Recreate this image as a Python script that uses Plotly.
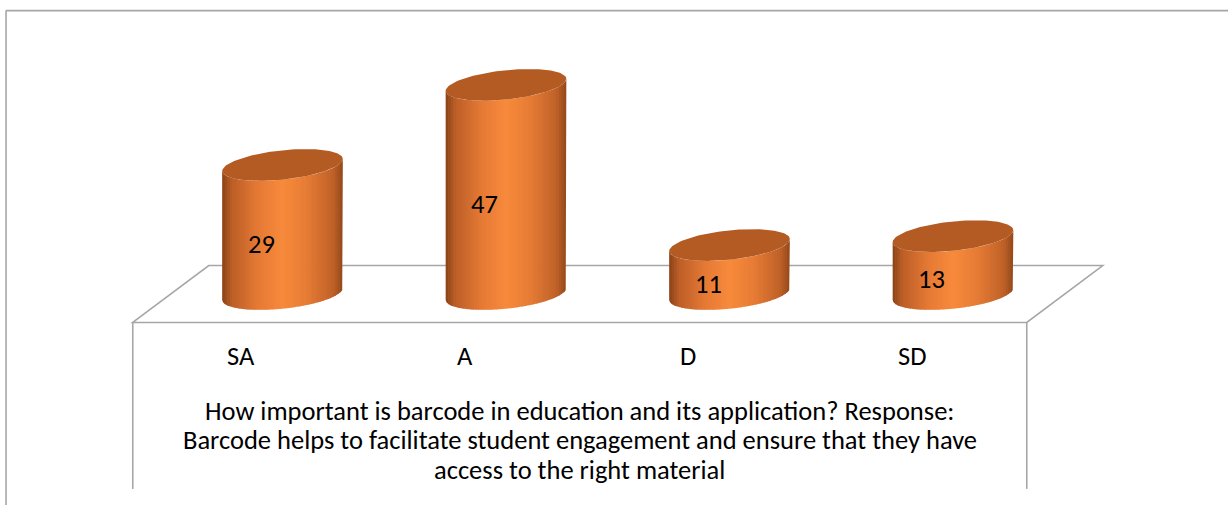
import numpy as np
import plotly.graph_objects as go

# Survey responses
categories = ["SA", "A", "D", "SD"]
responses = [29, 47, 11, 13]
question_lines = [
    "How important is barcode in education and its application? Response:",
    "Barcode helps to facilitate student engagement and ensure that they have",
    "access to the right material",
]

# cylinder geometry (x in category units, y in response units)
HALF_W = 0.27      # cylinder half width
RY = 3.3           # vertical semi-axis of the elliptical caps
TILT = 1.35        # caps lean: left side lower than right
DEPTH_X = 0.17     # floor depth offset (x)
DEPTH_Y = 6.4      # floor depth offset (y)
N_STRIPS = 48

FONT = "Calibri, Carlito, Lato, sans-serif"
FONT_SIZE = 26.5
LINE = "#a6a6a6"

# horizontal lighting of the cylinder body
stops = [
    (0.00, (0x8a, 0x42, 0x16)),
    (0.08, (0xbb, 0x5e, 0x27)),
    (0.30, (0xe6, 0x7a, 0x35)),
    (0.50, (0xf7, 0x8a, 0x3b)),
    (0.70, (0xe6, 0x7b, 0x34)),
    (0.92, (0xbf, 0x61, 0x28)),
    (1.00, (0x93, 0x48, 0x1a)),
]


def shade(f):
    for (f0, c0), (f1, c1) in zip(stops[:-1], stops[1:]):
        if f0 <= f <= f1:
            w = (f - f0) / (f1 - f0) if f1 > f0 else 0
            r, g, b = (round(a + (b_ - a) * w) for a, b_ in zip(c0, c1))
            return f"rgb({r},{g},{b})"
    return "rgb(%d,%d,%d)" % stops[-1][1]


def front_arc(u):
    """Lower (front) edge of a cap ellipse, u = relative x in [-1, 1]."""
    return TILT * u - RY * np.sqrt(np.clip(1 - u ** 2, 0, 1))


fig = go.Figure()

# body strips, one trace per shade holding all cylinders
edges = np.linspace(-1, 1, N_STRIPS + 1)
for k in range(N_STRIPS):
    u0, u1 = edges[k], min(edges[k + 1] + 0.012, 1)
    us = np.linspace(u0, u1, 5)
    xs, ys = [], []
    for i, v in enumerate(responses):
        top_y = v + front_arc(us)
        bot_y = front_arc(us[::-1])
        xs += list(i + HALF_W * us) + list(i + HALF_W * us[::-1]) + [None]
        ys += list(top_y) + list(bot_y) + [None]
    col = shade((k + 0.5) / N_STRIPS)
    fig.add_trace(go.Scatter(
        x=xs, y=ys, mode="lines", fill="toself", fillcolor=col,
        line=dict(width=0, color=col), hoverinfo="skip", showlegend=False,
    ))

# caps
t = np.linspace(0, 2 * np.pi, 121)
cx, cy = [], []
for i, v in enumerate(responses):
    cx += list(i + HALF_W * np.cos(t)) + [None]
    cy += list(v + TILT * np.cos(t) + RY * np.sin(t)) + [None]
fig.add_trace(go.Scatter(
    x=cx, y=cy, mode="lines", fill="toself", fillcolor="#b45b23",
    line=dict(width=0, color="#b45b23"), hoverinfo="skip", showlegend=False,
))

# floor and walls
n = len(categories)
xl, xr = -0.5, n - 0.5
fl = dict(type="path", xref="x", yref="y", layer="below",
          line=dict(color=LINE, width=1.6))
fig.add_shape(**fl, path=(
    f"M {xl - DEPTH_X} {-DEPTH_Y} L {xl + DEPTH_X} {DEPTH_Y} "
    f"L {xr + DEPTH_X} {DEPTH_Y} L {xr - DEPTH_X} {-DEPTH_Y} Z"))
WALL_BOTTOM = -43.8
for xv in (xl - DEPTH_X, xr - DEPTH_X):
    fig.add_shape(type="line", xref="x", yref="y", layer="below",
                  x0=xv, x1=xv, y0=-DEPTH_Y, y1=WALL_BOTTOM,
                  line=dict(color=LINE, width=1.6))

# outer chart border (top and left)
fig.add_shape(type="line", xref="paper", yref="paper", x0=0.0049, x1=1.02,
              y0=0.979, y1=0.979, line=dict(color=LINE, width=1.6))
fig.add_shape(type="line", xref="paper", yref="paper", x0=0.0049, x1=0.0049,
              y0=-0.02, y1=0.979, line=dict(color=LINE, width=1.6))

txt_font = dict(family=FONT, size=FONT_SIZE, color="#000")

# value labels
for i, v in enumerate(responses):
    fig.add_annotation(x=i - 0.095, y=v / 2 - 3.2, xref="x", yref="y",
                       text=str(v), showarrow=False, font=txt_font)

# category labels along the front edge
for i, c in enumerate(categories):
    fig.add_annotation(x=i - DEPTH_X - 0.015, y=-13.9, xref="x", yref="y",
                       text=c, showarrow=False, font=txt_font)

# axis title below the categories, one line per annotation
title_rows = [-26.3, -32.8, -39.55]
for line_text, yv in zip(question_lines, title_rows):
    fig.add_annotation(x=(xl + xr) / 2 - DEPTH_X, y=yv, xref="x", yref="y",
                       text=line_text, showarrow=False, font=txt_font)

PX_PER_CAT = 223.5
PX_PER_UNIT = 4.45
X0_PX, BASE_PX = 282.5, 294
W, H = 1228, 505
fig.update_layout(
    width=W, height=H,
    margin=dict(l=0, r=0, t=0, b=0),
    paper_bgcolor="white", plot_bgcolor="white",
    xaxis=dict(visible=False, range=[-X0_PX / PX_PER_CAT, (W - X0_PX) / PX_PER_CAT]),
    yaxis=dict(visible=False, range=[(BASE_PX - H) / PX_PER_UNIT, BASE_PX / PX_PER_UNIT]),
    showlegend=False,
)

fig.write_html("out.html")
